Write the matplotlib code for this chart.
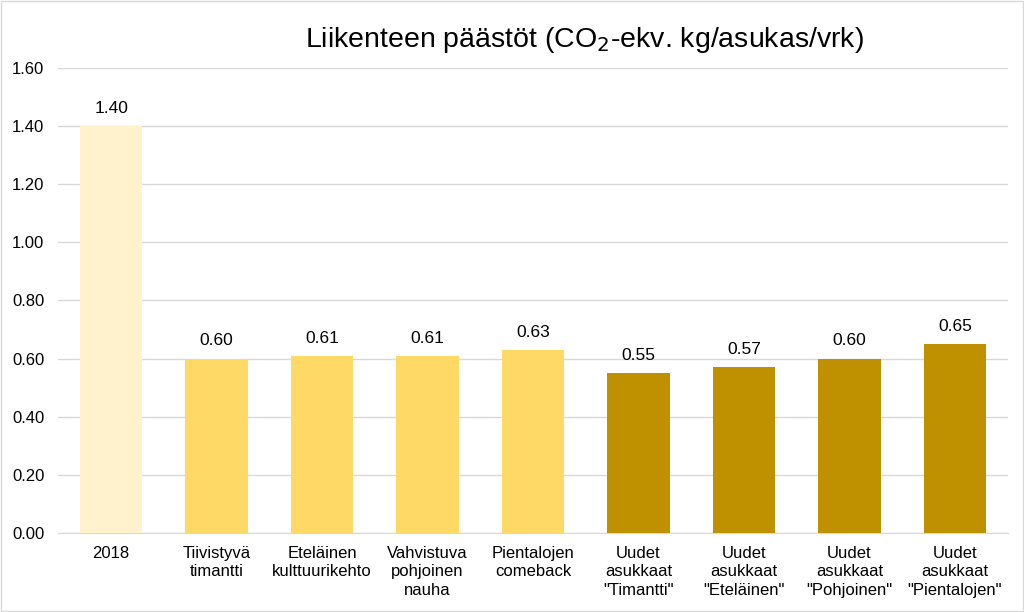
import matplotlib
matplotlib.use("Agg")
import matplotlib.pyplot as plt
from matplotlib.patches import Rectangle

# data
categories = ["2018", "Tiivistyvä\ntimantti", "Eteläinen\nkulttuurikehto",
              "Vahvistuva\npohjoinen\nnauha", "Pientalojen\ncomeback",
              "Uudet\nasukkaat\n\"Timantti\"", "Uudet\nasukkaat\n\"Eteläinen\"",
              "Uudet\nasukkaat\n\"Pohjoinen\"", "Uudet\nasukkaat\n\"Pientalojen\""]
values = [1.40, 0.60, 0.61, 0.61, 0.63, 0.55, 0.57, 0.60, 0.65]
bar_colors = ["#FFF2CC"] + ["#FFD966"] * 4 + ["#BF9000"] * 4
y_ticks = [0.0, 0.2, 0.4, 0.6, 0.8, 1.0, 1.2, 1.4, 1.6]

plt.rcParams['font.family'] = ['Liberation Sans', 'DejaVu Sans']

fig = plt.figure(figsize=(10.24, 6.12), dpi=100)
ax = fig.add_axes([0.057, 0.129, 0.927, 0.760])

x = list(range(len(categories)))
bars = ax.bar(x, values, width=0.59, color=bar_colors, zorder=3)

# value labels above bars
for xi, v in zip(x, values):
    ax.text(xi, v + 0.035, f"{v:.2f}", ha="center", va="bottom", fontsize=12.5, color="#000000")

ax.set_xlim(-0.5, len(categories) - 0.5)
ax.set_ylim(0, 1.6)
ax.set_yticks(y_ticks)
ax.set_yticklabels([f"{t:.2f}" for t in y_ticks], fontsize=12)
ax.set_xticks(x)
ax.set_xticklabels(categories, fontsize=12, linespacing=1.3)
ax.tick_params(axis="both", length=0, colors="#000000")
ax.tick_params(axis="y", pad=10)
ax.tick_params(axis="x", pad=9)

ax.grid(axis="y", color="#D9D9D9", linewidth=1, zorder=0)
for s in ["top", "right", "left"]:
    ax.spines[s].set_visible(False)
ax.spines["bottom"].set_color("#D9D9D9")

# title with subscript
fig.text(0.571, 0.935, "Liikenteen päästöt (CO$_2$-ekv. kg/asukas/vrk)",
         ha="center", va="center", fontsize=20.5, color="#000000")

# thin frame around the whole figure
fig.patches.append(Rectangle((0.001, 0.001), 0.998, 0.997, transform=fig.transFigure,
                             fill=False, edgecolor="#D9D9D9", linewidth=1))

fig.savefig("out.png", dpi=100)
